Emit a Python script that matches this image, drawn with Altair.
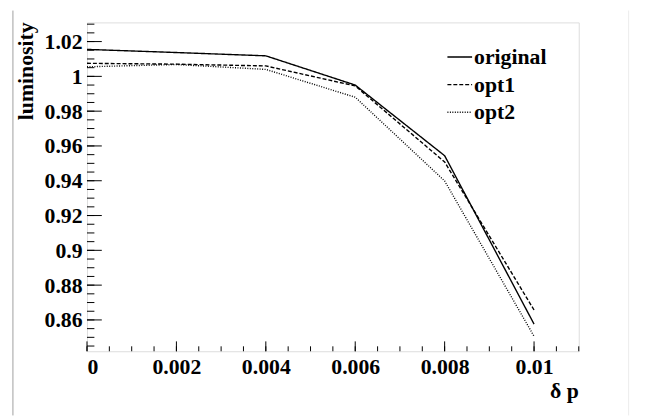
import altair as alt
import pandas as pd

# ---- data ----
dp = [0.0, 0.002, 0.004, 0.006, 0.008, 0.01]
original = [1.0155, 1.0137, 1.0118, 0.9950, 0.9544, 0.8576]
opt1 = [1.0075, 1.0070, 1.0060, 0.9945, 0.9508, 0.8657]
opt2 = [1.0055, 1.0068, 1.0040, 0.9880, 0.9399, 0.8506]
series_names = ["original", "opt1", "opt2"]

x_major = [0.0, 0.002, 0.004, 0.006, 0.008, 0.01]
x_minor = [round(i * 0.0005, 4) for i in range(0, 23)]
y_major = [0.86, 0.88, 0.9, 0.92, 0.94, 0.96, 0.98, 1.0, 1.02]
y_minor = [round(0.845 + i * 0.005, 3) for i in range(0, 38)]

W, H = 498, 333
FONT = "'Liberation Serif', 'Times New Roman', Times, serif"

rows = []
for name, vals in zip(series_names, [original, opt1, opt2]):
    for xv, yv in zip(dp, vals):
        rows.append({"dp": xv, "lum": yv, "series": name})
df = pd.DataFrame(rows)

xs = alt.Scale(domain=[0, 0.011], nice=False, zero=False)
ys = alt.Scale(domain=[0.842, 1.031], nice=False, zero=False)

axis_common = dict(
    ticks=False, domain=False, grid=False,
    labelFont=FONT, labelFontSize=22, labelFontWeight="bold", labelColor="black",
    format="~g", title=None,
)

dash_scale = alt.Scale(domain=series_names, range=[[1, 0], [4, 2], [1, 1.5]])

lines = alt.Chart(df).mark_line(color="black", strokeWidth=1.4).encode(
    x=alt.X("dp:Q", scale=xs, axis=alt.Axis(values=x_major, labelPadding=6, **axis_common)),
    y=alt.Y("lum:Q", scale=ys, axis=alt.Axis(values=y_major, labelPadding=5, **axis_common)),
    strokeDash=alt.StrokeDash("series:N", scale=dash_scale, legend=None),
    detail="series:N",
)

# inward ticks (ROOT style)
xmaj_df = pd.DataFrame({"v": x_major})
xmin_df = pd.DataFrame({"v": x_minor})
ymaj_df = pd.DataFrame({"v": y_major})
ymin_df = pd.DataFrame({"v": y_minor})

xt_major = alt.Chart(xmaj_df).mark_rule(color="black", strokeWidth=1).encode(
    x=alt.X("v:Q", scale=xs), y=alt.value(H), y2=alt.value(H - 10))
xt_minor = alt.Chart(xmin_df).mark_rule(color="black", strokeWidth=1).encode(
    x=alt.X("v:Q", scale=xs), y=alt.value(H), y2=alt.value(H - 5))
yt_major = alt.Chart(ymaj_df).mark_rule(color="black", strokeWidth=1).encode(
    y=alt.Y("v:Q", scale=ys), x=alt.value(0), x2=alt.value(15))
yt_minor = alt.Chart(ymin_df).mark_rule(color="black", strokeWidth=1).encode(
    y=alt.Y("v:Q", scale=ys), x=alt.value(0), x2=alt.value(7.5))

# legend (manual)
leg_df = pd.DataFrame({"series": series_names, "row": [0, 1, 2]})
leg_lines = []
leg_texts = []
for i, name in enumerate(series_names):
    yy = 35 + i * 28
    leg_lines.append(
        alt.Chart(leg_df[leg_df.series == name]).mark_rule(color="black", strokeWidth=1.4).encode(
            x=alt.value(365), x2=alt.value(390), y=alt.value(yy),
            strokeDash=alt.StrokeDash("series:N", scale=dash_scale, legend=None))
    )
    leg_texts.append(
        alt.Chart(leg_df[leg_df.series == name]).mark_text(
            font=FONT, fontSize=22, fontWeight="bold", align="left", baseline="middle", color="black"
        ).encode(x=alt.value(392), y=alt.value(yy), text="series:N")
    )

title_df = pd.DataFrame({"t": ["luminosity"]})
ytitle = alt.Chart(title_df).mark_text(
    font=FONT, fontSize=22, fontWeight="bold", angle=270, align="right", baseline="alphabetic", color="black"
).encode(x=alt.value(-55), y=alt.value(0), text="t:N")

xtitle_df = pd.DataFrame({"t": ["δ p"]})
xtitle = alt.Chart(xtitle_df).mark_text(
    font=FONT, fontSize=22, fontWeight="bold", align="right", baseline="alphabetic", color="black"
).encode(x=alt.value(W), y=alt.value(380), text="t:N")

# page border lines seen in reference
border_l = alt.Chart(title_df).mark_rule(color="#a0a0a0", strokeWidth=1).encode(
    x=alt.value(-75), y=alt.value(-12), y2=alt.value(398))
border_r = alt.Chart(title_df).mark_rule(color="#ececec", strokeWidth=1).encode(
    x=alt.value(548.5), y=alt.value(-12), y2=alt.value(398))

chart = alt.layer(
    lines, xt_major, xt_minor, yt_major, yt_minor, *leg_lines, *leg_texts, ytitle, xtitle, border_l, border_r
).properties(
    width=W, height=H,
    autosize=alt.AutoSizeParams(type="none"),
    padding={"left": 80, "top": 12, "right": 60, "bottom": 66},
).configure_view(stroke="black", strokeWidth=1).configure(background="white")

chart.save("out.html", embed_options={"renderer": "svg", "actions": False})
